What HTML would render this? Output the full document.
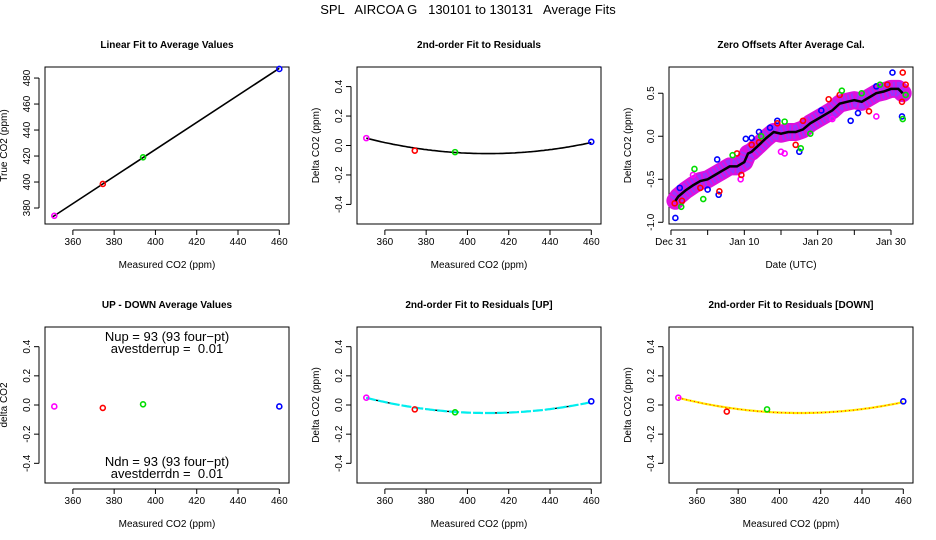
<!DOCTYPE html>
<html><head><meta charset="utf-8">
<style>
html,body{margin:0;padding:0;background:#fff;}
svg{display:block;font-family:"Liberation Sans",sans-serif;}
</style></head>
<body>
<svg id="c" width="936" height="540" viewBox="0 0 936 540">
<rect width="936" height="540" fill="#fff"/>
<text x="468" y="14" font-size="13" text-anchor="middle" xml:space="preserve" style="white-space:pre">SPL   AIRCOA G   130101 to 130131   Average Fits</text>
</svg>
<script>
// ---- data ----
const tankX = [351, 374.5, 394, 460];
const tankColors = ['#ff00ff', '#ff0000', '#00dd00', '#0000ff'];
const trueY = [374, 398.5, 419, 487];
const residY = [0.05, -0.035, -0.045, 0.025];
const updownY = [-0.01, -0.02, 0.005, -0.01];
const residUpY = [0.05, -0.03, -0.05, 0.025];
const residDnY = [0.05, -0.045, -0.03, 0.025];
const fitA = 3.0e-5, fitX0 = 410, fitMin = -0.055;
const linFit = [[350, 373], [460, 487.5]];
const xTicks = [360, 380, 400, 420, 440, 460];
const trueTicks = [380, 400, 420, 440, 460, 480];
const residTicks = [-0.4, -0.2, 0, 0.2, 0.4];
const zeroTicks = [-1.0, -0.5, 0.0, 0.5];
const zeroTickLabels = ['-1.0', '-0.5', '0.0', '0.5'];
const dateTicks = [0, 10, 20, 30];
const dateMinor = [5, 15, 25];
const dateLabels = ['Dec 31', 'Jan 10', 'Jan 20', 'Jan 30'];
const avgDays = [0.6,1,2,3,4,5,6,7,8,9,10,10.5,11,12,13,14,15,16,17,18,19,20,21,22,23,24,25,26,27,28,29,30,31,31.6];
const avgVals = [-0.75,-0.7,-0.63,-0.57,-0.52,-0.5,-0.45,-0.4,-0.35,-0.35,-0.3,-0.2,-0.18,-0.1,-0.02,0.05,0.03,0.05,0.05,0.08,0.15,0.2,0.25,0.3,0.38,0.4,0.42,0.4,0.45,0.5,0.52,0.55,0.55,0.5];
const blueDays = [0.6,1.2,5,6.5,6.3,10.2,11,13.5,14.5,17.5,24.5,25.5,28,30.2,31.5,20.5,12];
const blueVals = [-0.95,-0.6,-0.62,-0.68,-0.27,-0.03,-0.02,0.1,0.18,-0.18,0.18,0.27,0.58,0.74,0.23,0.3,0.05];
const redDays = [0.5,1.5,4,6.6,9.6,11,12,14.5,17,18,21.5,23,27,29.5,31.6,31.5,32,9];
const redVals = [-0.78,-0.75,-0.6,-0.64,-0.45,-0.1,-0.07,0.15,-0.1,0.18,0.43,0.48,0.29,0.6,0.74,0.4,0.6,-0.2];
const greenDays = [1.4,3.2,4.4,8.4,12.3,15.5,17.7,19,23.3,26,28.5,31.6,32];
const greenVals = [-0.82,-0.38,-0.73,-0.22,0.0,0.17,-0.14,0.03,0.53,0.5,0.6,0.2,0.48];
const magDays = [15,15.5,28,9.5,3,22];
const magVals = [-0.18,-0.2,0.23,-0.5,-0.45,0.2];

const NS='http://www.w3.org/2000/svg';
const svg=document.getElementById('c');
function el(tag,attrs,parent){const e=document.createElementNS(NS,tag);for(const k in attrs)e.setAttribute(k,attrs[k]);(parent||svg).appendChild(e);return e;}
function txt(s,attrs,parent){const e=el('text',attrs,parent);e.textContent=s;return e;}

function panel(o){
  const g=el('g',{});
  
  
  const L=o.x0,R=o.x1,T=o.y0,B=o.y1;
  const sx=v=>L+(v-o.xmin)/(o.xmax-o.xmin)*(R-L);
  const sy=v=>B-(v-o.ymin)/(o.ymax-o.ymin)*(B-T);
  const t=txt(o.title,{x:(L+R)/2,y:T-19,'font-size':10,'font-weight':'bold','text-anchor':'middle'},g);
  
  
  const box=el('rect',{x:L,y:T,width:R-L,height:B-T,fill:'none',stroke:'#000','stroke-width':1},g);
  
  
  const xa=el('g',{},g);
  
  
  const allx=o.xticks.concat(o.xminor||[]);
  const xmn=Math.min(...allx),xmx=Math.max(...allx);
  el('line',{x1:sx(xmn),x2:sx(xmx),y1:B+6,y2:B+6,stroke:'#000'},xa);
  allx.forEach(v=>el('line',{x1:sx(v),x2:sx(v),y1:B+6,y2:B+11,stroke:'#000'},xa));
  o.xticks.forEach((v,i)=>{const lb=txt(o.xlabels?o.xlabels[i]:String(v),{x:sx(v),y:B+21,'font-size':10,'text-anchor':'middle'},xa);
    
    });
  const xt=txt(o.xtitle,{x:(L+R)/2,y:B+44,'font-size':10,'text-anchor':'middle'},g);
  
  
  const ya=el('g',{},g);
  
  
  el('line',{x1:L-6,x2:L-6,y1:sy(o.yticks[0]),y2:sy(o.yticks[o.yticks.length-1]),stroke:'#000'},ya);
  o.yticks.forEach((v,i)=>{el('line',{x1:L-11,x2:L-6,y1:sy(v),y2:sy(v),stroke:'#000'},ya);
    const s=o.ylabels?o.ylabels[i]:(o.ydec?v.toFixed(1):String(v));
    const lb=txt(s,{x:L-15,y:sy(v),'font-size':10,'text-anchor':'middle',transform:`rotate(-90 ${L-15} ${sy(v)})`},ya);
    
    });
  const ytx=L-38;
  const yt=txt(o.ytitle,{x:ytx,y:(T+B)/2,'font-size':10,'text-anchor':'middle',transform:`rotate(-90 ${ytx} ${(T+B)/2})`},g);
  
  
  return {g,sx,sy};
}
function pts(p,xs,ys,cols,name){
  xs.forEach((x,i)=>{const c=el('circle',{cx:p.sx(x),cy:p.sy(ys[i]),r:2.5,fill:'none',stroke:Array.isArray(cols)?cols[i]:cols,'stroke-width':1.6},p.g);
    
    });
}
function quad(p,color,width,dash){
  let d='';for(let x=351;x<=460;x+=1){const y=fitA*(x-fitX0)*(x-fitX0)+fitMin;d+=(d?'L':'M')+p.sx(x).toFixed(1)+','+p.sy(y).toFixed(1);}
  const c=el('path',{d,fill:'none',stroke:color,'stroke-width':width},p.g);
  if(dash)c.setAttribute('stroke-dasharray',dash);
  
  
}
const xr={xmin:346.5,xmax:464.7};
const resY={ymin:-0.533,ymax:0.533};
const p1=panel(Object.assign({name:'linear-fit-panel',title:'Linear Fit to Average Values',x0:45,x1:289,y0:67,y1:224,ymin:367.7,ymax:488.5,xticks:xTicks,yticks:trueTicks,xtitle:'Measured CO2 (ppm)',ytitle:'True CO2 (ppm)'},xr));
const lf=el('line',{x1:p1.sx(linFit[0][0]),y1:p1.sy(linFit[0][1]),x2:p1.sx(linFit[1][0]),y2:p1.sy(linFit[1][1]),stroke:'#000','stroke-width':1.6},p1.g);


pts(p1,tankX,trueY,tankColors,'tank-point');
const p2=panel(Object.assign({name:'residual-fit-panel',title:'2nd-order Fit to Residuals',x0:357,x1:601,y0:67,y1:224,xticks:xTicks,yticks:residTicks,ydec:true,xtitle:'Measured CO2 (ppm)',ytitle:'Delta CO2 (ppm)'},xr,resY));
quad(p2,'#000',1.6);
pts(p2,tankX,residY,tankColors,'tank-residual-point');
const p3=panel({name:'zero-offsets-panel',title:'Zero Offsets After Average Cal.',x0:669,x1:913,y0:67,y1:224,xmin:-0.27,xmax:33.0,ymin:-1.02,ymax:0.805,xticks:dateTicks,xminor:dateMinor,xlabels:dateLabels,yticks:zeroTicks,ylabels:zeroTickLabels,xtitle:'Date (UTC)',ytitle:'Delta CO2 (ppm)'});
let bd='';avgDays.forEach((d,i)=>{bd+=(i?'L':'M')+p3.sx(d).toFixed(1)+','+p3.sy(avgVals[i]).toFixed(1);});
const band=el('path',{d:bd,fill:'none',stroke:'#dd11dd','stroke-width':18,'stroke-linejoin':'round','stroke-linecap':'round'},p3.g);


const band2=el('path',{d:bd,fill:'none',stroke:'#9933ff','stroke-width':14,'stroke-dasharray':'2 2','stroke-linejoin':'round'},p3.g);


pts(p3,magDays,magVals,'#ff00ff','magenta-offset-point');
pts(p3,blueDays,blueVals,'#0000ff','blue-offset-point');
pts(p3,redDays,redVals,'#ff0000','red-offset-point');
pts(p3,greenDays,greenVals,'#00dd00','green-offset-point');
const avgLine=el('path',{d:bd,fill:'none',stroke:'#000','stroke-width':2.5},p3.g);


const p4=panel(Object.assign({name:'up-down-panel',title:'UP - DOWN Average Values',x0:45,x1:289,y0:327,y1:483,xticks:xTicks,yticks:residTicks,ydec:true,xtitle:'Measured CO2 (ppm)',ytitle:'delta CO2'},xr,{ymin:-0.535,ymax:0.535}));
pts(p4,tankX,updownY,tankColors,'updown-point');
[['Nup = 93 (93 four\u2212pt)',341],['avestderrup =  0.01',353],['Ndn = 93 (93 four\u2212pt)',466],['avestderrdn =  0.01',478]].forEach((a,i)=>{
  const t=txt(a[0],{x:167,y:a[1],'font-size':13,'text-anchor':'middle','xml:space':'preserve',style:'white-space:pre'},p4.g);
  
  });
const p5=panel(Object.assign({name:'residual-up-panel',title:'2nd-order Fit to Residuals [UP]',x0:357,x1:601,y0:327,y1:483,xticks:xTicks,yticks:residTicks,ydec:true,xtitle:'Measured CO2 (ppm)',ytitle:'Delta CO2 (ppm)'},xr,{ymin:-0.535,ymax:0.535}));
quad(p5,'#000',1.4,'4 6');
quad(p5,'#00eeee',2.2,'10 2');
pts(p5,tankX,residUpY,tankColors,'tank-residual-up-point');
const p6=panel(Object.assign({name:'residual-down-panel',title:'2nd-order Fit to Residuals [DOWN]',x0:669,x1:913,y0:327,y1:483,xticks:xTicks,yticks:residTicks,ydec:true,xtitle:'Measured CO2 (ppm)',ytitle:'Delta CO2 (ppm)'},xr,{ymin:-0.535,ymax:0.535}));
quad(p6,'#000',1.4,'4 6');
quad(p6,'#ffee00',2.2);
quad(p6,'#ff0000',1,'1 3');
pts(p6,tankX,residDnY,tankColors,'tank-residual-down-point');
</script>
</body></html>
